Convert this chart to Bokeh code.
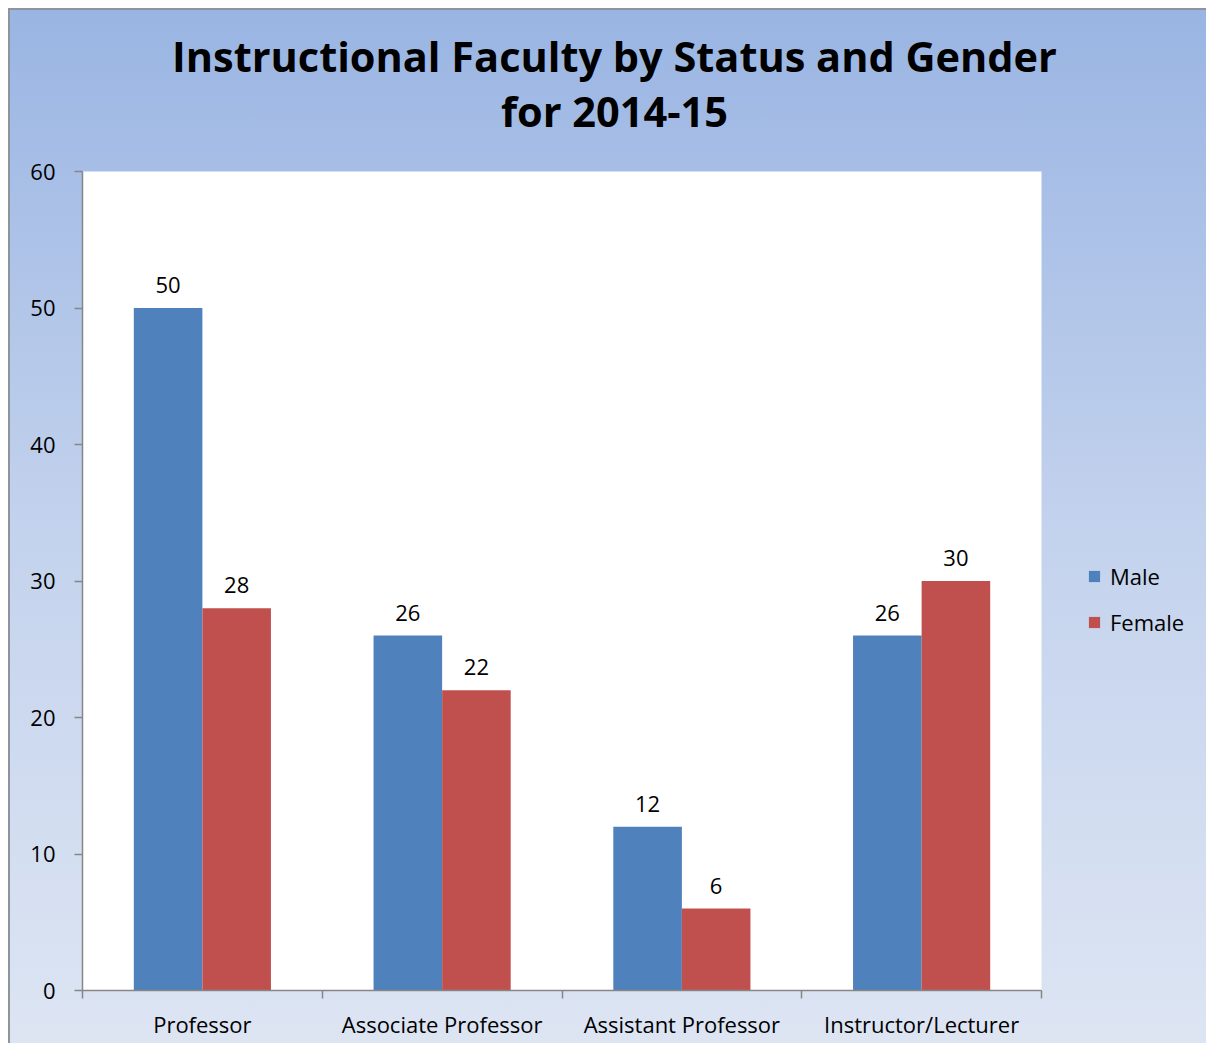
from bokeh.plotting import figure
from bokeh.models import (ColumnDataSource, Range1d, LinearAxis, BoxAnnotation,
                          FixedTicker, Label, Legend, LegendItem)
from bokeh.transform import dodge
from bokeh.core.properties import value
from bokeh.embed import file_html
from bokeh.resources import INLINE

# ---- data ----
categories = ["Professor", "Associate Professor", "Assistant Professor", "Instructor/Lecturer"]
male = [50, 26, 12, 26]
female = [28, 22, 6, 30]
series_names = ["Male", "Female"]
y_ticks = [0, 10, 20, 30, 40, 50, 60]
y_max = 60
title_lines = ["Instructional Faculty by Status and Gender", "for 2014-15"]

MALE_C = "#4f81bd"
FEMALE_C = "#c0504d"
AXIS_C = "#868686"
FONT = "Open Sans"

n = len(categories)
centers = [i + 0.5 for i in range(n)]
bounds = list(range(n + 1))
source = ColumnDataSource(dict(
    pos=centers, male=male, female=female,
    male_lbl=[str(v) for v in male], female_lbl=[str(v) for v in female],
))

# layout (pixels)
FIG_W, FIG_H = 1198, 1035
LEFT, BOTTOM = 72, 55
PLOT_W, PLOT_H = 959, 819          # white plot-area size
frame_w = FIG_W - LEFT
frame_h = FIG_H - BOTTOM

p = figure(
    x_range=Range1d(0, n * frame_w / PLOT_W),
    y_range=Range1d(0, y_max * frame_h / PLOT_H),
    width=FIG_W, height=FIG_H,
    min_border_left=LEFT, min_border_top=0, min_border_right=0, min_border_bottom=BOTTOM,
    output_backend="svg", toolbar_location=None, x_axis_location=None,
)
p.styles = {
    "margin-left": "8px",
    "margin-top": "8px",
    "background": "linear-gradient(to bottom, #9ab5e3 0%, #c3d2ed 50%, #dde5f3 100%)",
    "border-left": "2px solid #8d949c",
    "border-top": "2px solid #8d949c",
}
p.border_fill_alpha = 0
p.background_fill_alpha = 0
p.outline_line_color = None
p.grid.visible = False

# white plot area
p.add_layout(BoxAnnotation(left=0, right=n, bottom=0, top=y_max, fill_color="white",
                           fill_alpha=1, line_color=None, level="underlay"))

W = 0.286
OFF = 0.143
rm = p.vbar(x=dodge("pos", -OFF), top="male", width=W, bottom=0,
            source=source, fill_color=MALE_C, line_color=None)
rf = p.vbar(x=dodge("pos", OFF), top="female", width=W, bottom=0,
            source=source, fill_color=FEMALE_C, line_color=None)

for col, lbl, off in (("male", "male_lbl", -OFF), ("female", "female_lbl", OFF)):
    p.text(x=dodge("pos", off), y=col, text=lbl, source=source,
           text_align="center", text_baseline="middle", y_offset=-23,
           text_font=value(FONT), text_font_size="22px", text_color="black")

# y axis
ya = p.yaxis[0]
ya.ticker = FixedTicker(ticks=y_ticks)
ya.bounds = (0, y_max)
ya.major_tick_out = 8
ya.major_tick_in = 0
ya.minor_tick_line_color = None
ya.axis_line_color = AXIS_C
ya.major_tick_line_color = AXIS_C
ya.axis_line_width = 1.5
ya.major_tick_line_width = 1.5
ya.major_label_standoff = 19
ya.major_label_text_font = FONT
ya.major_label_text_font_size = "22px"
ya.major_label_text_color = "black"

# x axis: labels at category centres, tick marks at category boundaries
xa = LinearAxis(ticker=FixedTicker(ticks=centers, minor_ticks=bounds))
xa.bounds = (0, n)
xa.major_label_overrides = {c: name for c, name in zip(centers, categories)}
xa.axis_line_color = AXIS_C
xa.axis_line_width = 1.5
xa.major_tick_line_color = None
xa.major_tick_out = 0
xa.major_tick_in = 0
xa.minor_tick_line_color = AXIS_C
xa.minor_tick_line_width = 1.5
xa.minor_tick_out = 8
xa.minor_tick_in = 0
xa.major_label_standoff = 10
xa.major_label_text_font = FONT
xa.major_label_text_font_size = "22px"
xa.major_label_text_color = "black"
p.add_layout(xa, "below")

# title (screen units relative to frame bottom-left)
for txt, yy in zip(title_lines, [frame_h - 45, frame_h - 100]):
    p.add_layout(Label(x=532, y=yy, x_units="screen", y_units="screen", text=txt,
                       text_align="center", text_baseline="middle",
                       text_font=FONT, text_font_style="bold", text_font_size="41.5px",
                       text_color="black"))

legend = Legend(
    items=[LegendItem(label=series_names[0], renderers=[rm]),
           LegendItem(label=series_names[1], renderers=[rf])],
    location=(1005, 353), orientation="vertical",
    glyph_width=14, glyph_height=14, label_standoff=9, spacing=16,
    padding=0, margin=0, border_line_color=None, background_fill_alpha=0,
    label_text_font=FONT, label_text_font_size="22px", label_text_color="black",
)
p.add_layout(legend, "center")

open("out.html", "w").write(file_html(p, INLINE))
